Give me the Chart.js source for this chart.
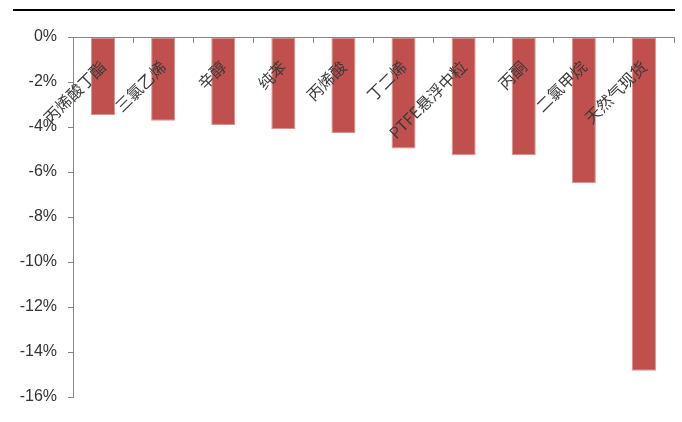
<!DOCTYPE html>
<html>
<head>
<meta charset="utf-8">
<script src="https://cdn.jsdelivr.net/npm/chart.js@4.4.1/dist/chart.umd.min.js"></script>
<style>
    body { margin: 0; background: #fff; }
    #wrap { position: relative; width: 682px; height: 422px; }
    #graficaSemanal { display: block; }
    #topLine { position: absolute; left: 13px; top: 9px; width: 662px; height: 2px; background: #000; }
</style>
</head>
<body>
<div id="wrap">
    <canvas id="graficaSemanal" width="682" height="422"></canvas>
    <div id="topLine"></div>
</div>
<script>
// datos
var categorias = ['丙烯酸丁酯', '三氯乙烯', '辛醇', '纯苯', '丙烯酸', '丁二烯', 'PTFE悬浮中粒', '丙酮', '二氯甲烷', '天然气现货'];
var caidaSemanal = [-3.47, -3.72, -3.91, -4.09, -4.27, -4.95, -5.26, -5.26, -6.5, -14.83];
var nombreSerie = '周跌幅';
var ticksY = [0, -2, -4, -6, -8, -10, -12, -14, -16];

var colorBarra = '#C0504D';
var colorEje = '#868686';
var chart;

function crearGrafica() 
{
    const ctx = document.getElementById('graficaSemanal').getContext('2d');

    chart = new Chart(ctx, {
        type: 'bar',
        data: {
            labels: categorias,
            datasets: [
                {
                    label: nombreSerie,
                    data: caidaSemanal,
                    backgroundColor: colorBarra,
                    borderColor: '#D9918F',
                    borderWidth: 1,
                    borderSkipped: false,
                    barPercentage: 0.4,
                    categoryPercentage: 1
                }
            ]
        },
        options: {
            responsive: false,
            animation: false,
            layout: {
                padding: { left: 0, top: 37, right: 8, bottom: 25 }
            },
            plugins: {
                legend: { display: false },
                tooltip: { enabled: false }
            },
            scales: {
                x: {
                    // eje de categorias pegado al 0%, etiquetas hacia abajo
                    position: { y: 0 },
                    afterFit: function(scale) { scale.height = 0; },
                    grid: {
                        z: 1,
                        drawOnChartArea: false,
                        offset: true,
                        tickLength: 5,
                        color: colorEje
                    },
                    border: { z: 1, color: colorEje, width: 1 },
                    ticks: {
                        z: 2,
                        autoSkip: false,
                        minRotation: 45,
                        maxRotation: 45,
                        padding: 15,
                        color: '#3a3a3a',
                        font: { family: '"Noto Sans CJK SC", sans-serif', size: 16 }
                    }
                },
                y: {
                    min: Math.min.apply(null, ticksY),
                    max: Math.max.apply(null, ticksY),
                    afterFit: function(scale) { scale.width = 73; },
                    grid: {
                        drawOnChartArea: false,
                        tickLength: 5,
                        color: colorEje
                    },
                    border: { color: colorEje },
                    ticks: {
                        stepSize: ticksY[0] - ticksY[1],
                        padding: 11,
                        color: '#333',
                        font: { family: '"Liberation Sans", sans-serif', size: 16 },
                        callback: function(value) { return value + '%'; }
                    }
                }
            }
        }
    });
}

crearGrafica();
</script>
</body>
</html>
